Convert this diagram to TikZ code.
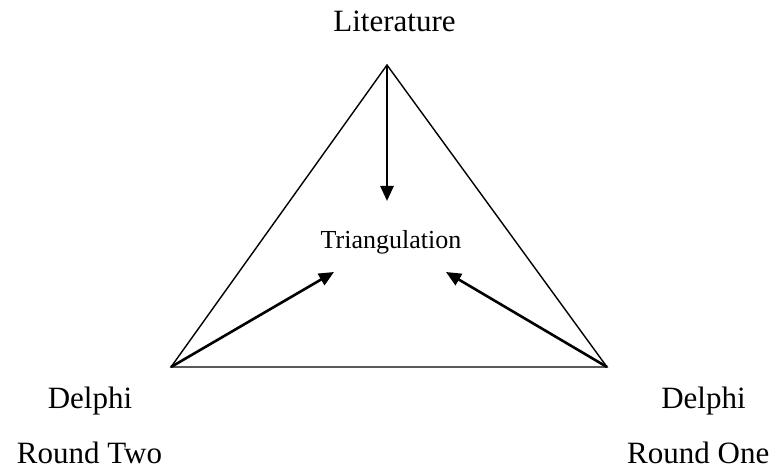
\documentclass[tikz,border=0pt]{standalone}
\usepackage{fontspec}
\setmainfont{Liberation Serif}
\usetikzlibrary{arrows.meta}
\begin{document}
\begin{tikzpicture}[x=1pt,y=-1pt,
  lbl/.style={anchor=base,inner sep=0pt,font=\fontsize{31}{36}\selectfont},
  side/.style={line width=1.4pt},
  arr/.style={line width=2.6pt,-{Triangle[length=15pt,width=13pt]}}]
\useasboundingbox[fill=white] (0,0) rectangle (779,470);
\coordinate (T) at (387,65);
\coordinate (L) at (171,367);
\coordinate (R) at (607,367);
\draw[side,line join=miter] (T) -- (L) -- (R) -- cycle;
\node[lbl,font=\fontsize{26}{30}\selectfont] (tri) at (391,249) {Triangulation};
\coordinate (ta) at (387,201);
\coordinate (la) at (334,272);
\coordinate (ra) at (446,272);
\draw[arr] (T) -- (ta);
\draw[arr] (L) -- (la);
\draw[arr] (R) -- (ra);
\node[lbl] (lit) at (394.5,32) {Literature};
\node[lbl] (d2) at (90,408) {Delphi};
\node[lbl] (r2) at (89.5,463) {Round Two};
\node[lbl] (d1) at (703.5,408) {Delphi};
\node[lbl,anchor=base west] (r1) at (627,463) {Round One};
\end{tikzpicture}
\end{document}
